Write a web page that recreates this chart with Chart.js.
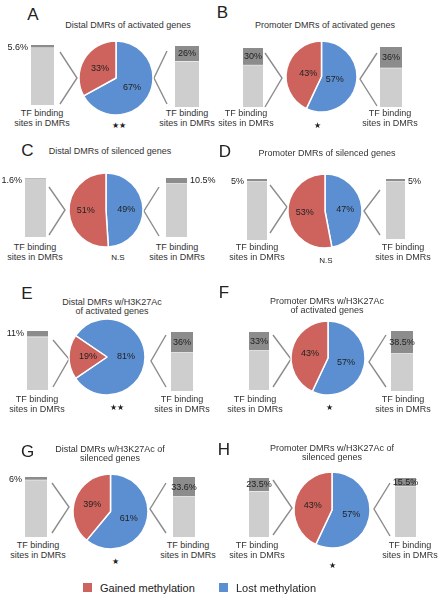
<!DOCTYPE html>
<html>
<head>
<meta charset="utf-8">
<script src="https://cdn.jsdelivr.net/npm/chart.js@4.4.1/dist/chart.umd.min.js"></script>
<style>
html, body { margin: 0; padding: 0; background: #fff; overflow: hidden; }
#fig { position: relative; width: 441px; height: 601px; overflow: hidden;
       font-family: 'Liberation Sans', Arial, Helvetica, sans-serif; color: #333; }
#fig canvas, #fig .txt, #fig svg, #fig .sq { position: absolute; }
.txt { white-space: nowrap; line-height: 1; }
</style>
</head>
<body>
<div id="fig"></div>
<script>
// ---- data ----
const panelLetters = ['A', 'B', 'C', 'D', 'E', 'F', 'G', 'H'];
const panelTitles = [
	['Distal DMRs of activated genes'],
	['Promoter DMRs of activated genes'],
	['Distal DMRs of silenced genes'],
	['Promoter DMRs of silenced genes'],
	['Distal DMRs w/H3K27Ac', 'of activated genes'],
	['Promoter DMRs w/H3K27Ac', 'of activated genes'],
	['Distal DMRs w/H3K27Ac of', 'silenced genes'],
	['Promoter DMRs w/H3K27Ac of', 'silenced genes']
];
const seriesNames = ['Gained methylation', 'Lost methylation'];
const gainedPct = [33, 43, 51, 53, 19, 43, 39, 43];
const lostPct = [67, 57, 49, 47, 81, 57, 61, 57];
const leftTfPct = [5.6, 30, 1.6, 5, 11, 33, 6, 23.5];   // TF binding sites, gained side
const rightTfPct = [26, 36, 10.5, 5, 36, 38.5, 33.6, 15.5]; // TF binding sites, lost side
const signif = ['★★', '★', 'N.S', 'N.S', '★★', '★', '★', '★'];
const barCaption = ['TF binding', 'sites in DMRs'];

// colours
const RED = '#cd635c';
const BLUE = '#5b8fd1';
const DARK = '#8c8c8c';
const LIGHT = '#cecece';
const FONT = '"Liberation Sans", Arial, Helvetica, sans-serif';

// ---- placement of each panel (page pixels) ----
// chev: [outer x, top y, tip x, tip y, bottom y]
const layout = [
	{ letter: [33, 13.5], title: [128, 25], pie: [115.5, 78, 37], rot: 0, lr: 0.5,
	  lbar: [31, 45, 23, 60], rbar: [175, 46, 24, 61],
	  lchev: [60, 52, 77, 78, 104], rchev: [167, 51, 154, 78, 104], tf: [42, 187, 113], sig: [119, 126] },
	{ letter: [222.5, 11.5], title: [325, 25], pie: [321.5, 76, 35.5], rot: 0, lr: 0.38,
	  lbar: [243, 48, 20, 59], rbar: [380, 47, 22, 60],
	  lchev: [265, 53, 282, 78, 107], rchev: [377, 53, 360, 79, 106], tf: [246, 390, 113], sig: [317, 126] },
	{ letter: [27.5, 150], title: [110, 151], pie: [106, 210, 37], rot: 0, lr: 0.55,
	  lbar: [25, 178, 21, 59], rbar: [166, 178, 21, 59],
	  lchev: [49, 187, 65, 210, 235], rchev: [159, 187, 144, 211, 236], tf: [35, 177, 247], sig: [118, 258] },
	{ letter: [225, 151], title: [327, 153], pie: [325, 211, 37], rot: 0, lr: 0.55,
	  lbar: [247, 179, 20, 61], rbar: [386, 179, 19, 60],
	  lchev: [270, 185, 287, 207, 233], rchev: [380, 190, 364, 211, 235], tf: [257, 403, 247], sig: [326, 261] },
	{ letter: [27, 292.5], title: [112, 302], pie: [107, 357, 38], rot: 304.2, lr: 0.5,
	  lbar: [27, 331, 21, 59], rbar: [171, 332, 22, 59],
	  lchev: [53, 340, 69, 359, 387], rchev: [166, 335, 151, 361, 387], tf: [37, 182, 399], sig: [117, 408] },
	{ letter: [224, 292], title: [327, 301], pie: [328, 358, 37], rot: 0, lr: 0.5,
	  lbar: [249, 332, 20, 58], rbar: [391, 331, 22, 60],
	  lchev: [273, 335, 291, 359, 387], rchev: [386, 335, 369, 362, 387], tf: [255, 403, 399], sig: [329, 408] },
	{ letter: [27.5, 451], title: [110, 449], pie: [110, 511, 37.5], rot: 0, lr: 0.52,
	  lbar: [25, 477, 22, 60], rbar: [173, 477, 22, 60],
	  lchev: [52, 483, 69, 507, 533], rchev: [166, 483, 150, 509, 533], tf: [38, 188, 545], sig: [115, 562] },
	{ letter: [224, 449], title: [332, 448], pie: [332, 509.5, 38], rot: 0, lr: 0.52,
	  lbar: [249, 478, 20, 59], rbar: [395, 478, 21, 59],
	  lchev: [273, 480, 292, 508, 535], rchev: [390, 483, 374, 509, 536], tf: [257, 410, 545], sig: [332, 566] }
];

const fig = document.getElementById('fig');

function put(lines, x, y, css) {
	const d = document.createElement('div');
	d.className = 'txt';
	lines.forEach((s, k) => {
		if (k) d.appendChild(document.createElement('br'));
		d.appendChild(document.createTextNode(s));
	});
	d.style.left = x + 'px';
	d.style.top = y + 'px';
	Object.assign(d.style, css || {});
	fig.appendChild(d);
	return d;
}

function makeCanvas(x, y, w, h) {
	const c = document.createElement('canvas');
	c.width = w; c.height = h;
	c.style.left = x + 'px'; c.style.top = y + 'px';
	c.style.width = w + 'px'; c.style.height = h + 'px';
	fig.appendChild(c);
	return c.getContext('2d');
}

// percent labels inside the pie slices
const pieLabels = {
	id: 'pieLabels',
	afterDatasetsDraw(chart, args, opts) {
		const ctx = chart.ctx;
		const meta = chart.getDatasetMeta(0);
		ctx.save();
		ctx.font = '9px ' + FONT;
		ctx.fillStyle = '#222';
		ctx.textAlign = 'center';
		ctx.textBaseline = 'middle';
		meta.data.forEach((arc, k) => {
			const mid = (arc.startAngle + arc.endAngle) / 2;
			const rr = arc.outerRadius * opts.dist;
			ctx.fillText(chart.data.datasets[0].data[k] + '%', arc.x + Math.cos(mid) * rr, arc.y + Math.sin(mid) * rr);
		});
		ctx.restore();
	}
};

// percent label of the dark (TF binding) part of a bar
const barLabels = {
	id: 'barLabels',
	afterDatasetsDraw(chart, args, opts) {
		const ctx = chart.ctx;
		const bar = chart.getDatasetMeta(1).data[0];
		const v = chart.data.datasets[1].data[0];
		ctx.save();
		ctx.font = '9px ' + FONT;
		ctx.fillStyle = '#222';
		ctx.textBaseline = 'middle';
		if (v >= 12) {
			ctx.textAlign = 'center';
			ctx.fillText(v + '%', bar.x, (bar.y + bar.base) / 2);
		} else if (opts.side === 'left') {
			ctx.textAlign = 'right';
			ctx.fillText(v + '%', bar.x - bar.width / 2 - 3, bar.y + 3);
		} else {
			ctx.textAlign = 'left';
			ctx.fillText(v + '%', bar.x + bar.width / 2 + 3, bar.y + 3);
		}
		ctx.restore();
	}
};

function drawBar(box, v, side) {
	const [x, y, w, h] = box;
	const pl = side === 'left' ? 30 : 4;
	const pr = side === 'left' ? 4 : 30;
	const ctx = makeCanvas(x - pl, y - 4, w + pl + pr, h + 4);
	new Chart(ctx, {
		type: 'bar',
		data: {
			labels: [''],
			datasets: [
				{ data: [+(100 - v).toFixed(1)], backgroundColor: LIGHT },
				{ data: [v], backgroundColor: DARK, borderColor: '#fff',
				  borderWidth: { top: 0, left: 0, right: 0, bottom: 1.2 }, borderSkipped: false }
			]
		},
		options: {
			responsive: false,
			animation: false,
			events: [],
			layout: { padding: { left: pl, right: pr, top: 4, bottom: 0 } },
			datasets: { bar: { barPercentage: 1, categoryPercentage: 1 } },
			scales: {
				x: { display: false, stacked: true },
				y: { display: false, stacked: true, min: 0, max: 100 }
			},
			plugins: { legend: { display: false }, tooltip: { enabled: false }, barLabels: { side: side } }
		},
		plugins: [barLabels]
	});
}

function drawPie(i) {
	const L = layout[i];
	const [cx, cy, r] = L.pie;
	const s = Math.ceil(2 * r + 6);
	const ctx = makeCanvas(cx - s / 2, cy - s / 2, s, s);
	new Chart(ctx, {
		type: 'pie',
		data: {
			labels: [seriesNames[1], seriesNames[0]],
			datasets: [{
				data: [lostPct[i], gainedPct[i]],
				backgroundColor: [BLUE, RED],
				borderColor: '#fff',
				borderWidth: 1.5,
				hoverOffset: 0
			}]
		},
		options: {
			responsive: false,
			animation: false,
			events: [],
			radius: r,
			rotation: L.rot,
			plugins: { legend: { display: false }, tooltip: { enabled: false }, pieLabels: { dist: L.lr } }
		},
		plugins: [pieLabels]
	});
}

// chevrons
const svgNS = 'http://www.w3.org/2000/svg';
const svg = document.createElementNS(svgNS, 'svg');
svg.setAttribute('width', 441);
svg.setAttribute('height', 601);
svg.style.left = '0px'; svg.style.top = '0px';
fig.appendChild(svg);
function chevron(c) {
	const p = document.createElementNS(svgNS, 'polyline');
	p.setAttribute('points', `${c[0]},${c[1]} ${c[2]},${c[3]} ${c[0]},${c[4]}`);
	p.setAttribute('fill', 'none');
	p.setAttribute('stroke', '#8c8c8c');
	p.setAttribute('stroke-width', '1.4');
	svg.appendChild(p);
}

layout.forEach((L, i) => {
	put([panelLetters[i]], L.letter[0], L.letter[1], { fontSize: '17px', color: '#222', transform: 'translate(-50%,-50%)' });
	put(panelTitles[i], L.title[0], L.title[1] - 4.5, { fontSize: '9px', lineHeight: '9px', textAlign: 'center', transform: 'translateX(-50%)' });
	chevron(L.lchev);
	chevron(L.rchev);
	drawPie(i);
	drawBar(L.lbar, leftTfPct[i], 'left');
	drawBar(L.rbar, rightTfPct[i], 'right');
	put(barCaption, L.tf[0], L.tf[2] - 5, { fontSize: '9px', lineHeight: '10px', textAlign: 'center', transform: 'translateX(-50%)' });
	put(barCaption, L.tf[1], L.tf[2] - 5, { fontSize: '9px', lineHeight: '10px', textAlign: 'center', transform: 'translateX(-50%)' });
	put([signif[i]], L.sig[0], L.sig[1], { fontSize: '8px', color: '#222', transform: 'translate(-50%,-50%)' });
});

// legend
function legendItem(x, color, name) {
	const sq = document.createElement('div');
	sq.className = 'sq';
	Object.assign(sq.style, { left: x + 'px', top: '583px', width: '9px', height: '9px', background: color });
	fig.appendChild(sq);
	put([name], x + 17, 588, { fontSize: '11px', color: '#222', transform: 'translateY(-50%)' });
}
legendItem(83, RED, seriesNames[0]);
legendItem(219, BLUE, seriesNames[1]);
</script>
</body>
</html>
